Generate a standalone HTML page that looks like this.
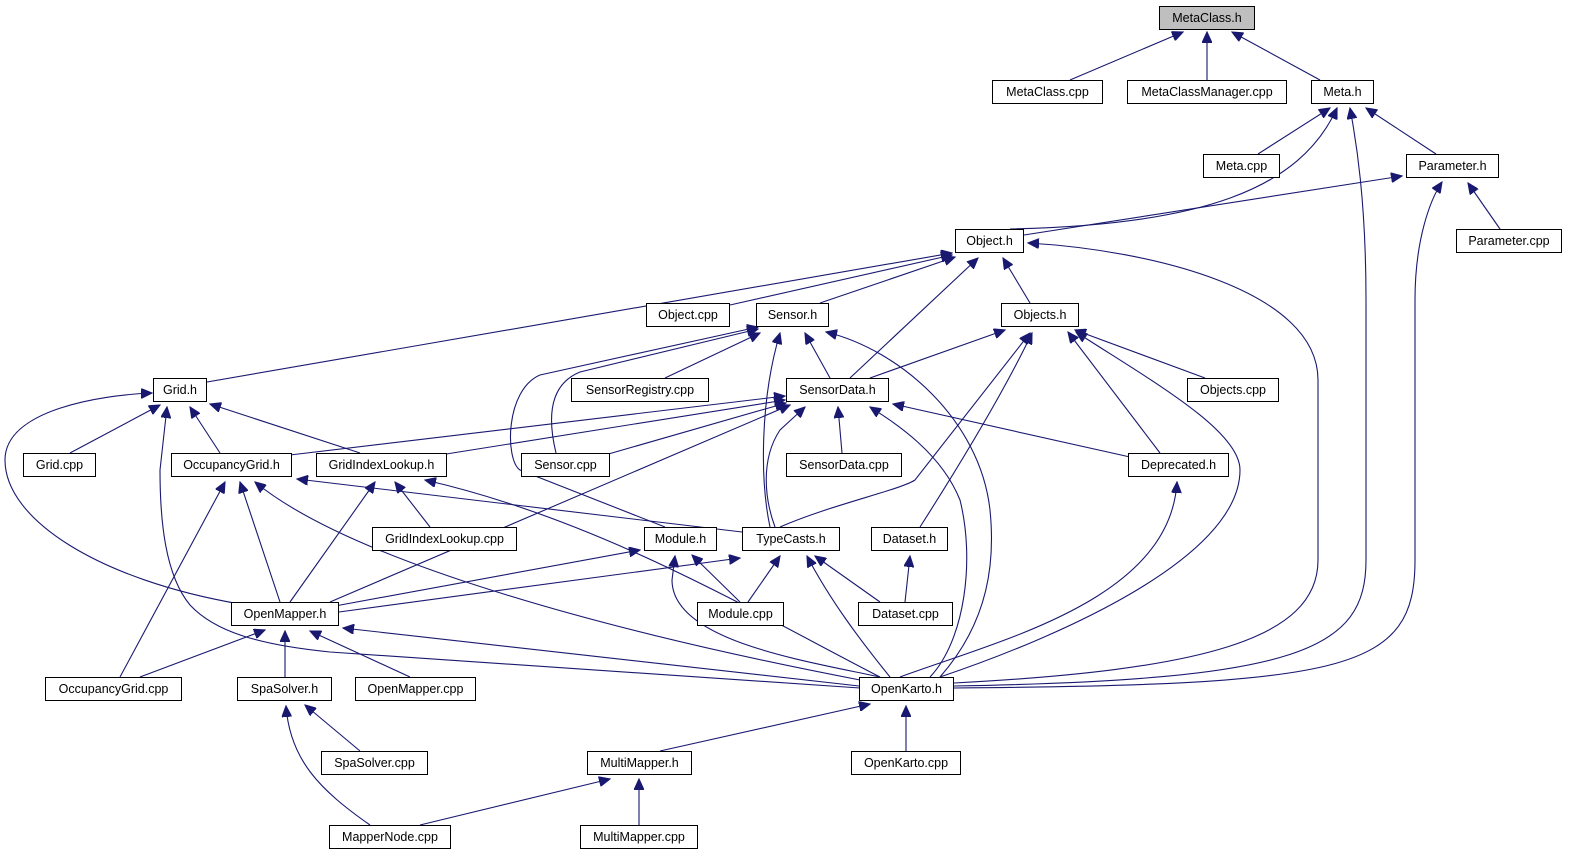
<!DOCTYPE html>
<html><head><meta charset="utf-8"><style>
body{margin:0;background:#fff;width:1570px;height:859px;position:relative;overflow:hidden;font-family:"Liberation Sans",sans-serif;}
.n{position:absolute;box-sizing:border-box;border:1px solid #000;background:#fff;height:24px;font-size:12.5px;line-height:22px;text-align:center;white-space:nowrap;}
svg{position:absolute;left:0;top:0;}
path{fill:none;stroke:#191970;stroke-width:1.1;}
</style></head><body>
<svg width="1570" height="859">
<defs><marker id="a" markerWidth="12" markerHeight="10" refX="11" refY="5" orient="auto" markerUnits="userSpaceOnUse"><path d="M0,0 L11,5 L0,10 Z" style="fill:#191970;stroke:#191970"/></marker></defs>
<g marker-end="url(#a)">
<path d="M1070,80 L1183,32"/>
<path d="M1207,80 L1207,32"/>
<path d="M1320,80 L1232,32"/>
<path d="M1258,154 L1330,108"/>
<path d="M1436,154 L1366,108"/>
<path d="M1010,229 C1200,225 1300,190 1337,108"/>
<path d="M954,686 C1300,680 1366,650 1366,560 L1366,300 C1366,200 1356,140 1350,108"/>
<path d="M1024,235 L1402,176"/>
<path d="M1500,229 L1468,183"/>
<path d="M954,688 C1350,685 1415,670 1415,560 L1415,300 C1415,240 1430,200 1442,182"/>
<path d="M730,305 L952,255"/>
<path d="M820,303 L955,257"/>
<path d="M1030,303 L1003,258"/>
<path d="M207,382 L952,253"/>
<path d="M850,378 L978,258"/>
<path d="M954,683 C1200,670 1318,640 1318,560 L1318,380 C1318,290 1150,250 1028,243"/>
<path d="M665,378 L760,333"/>
<path d="M830,378 L805,333"/>
<path d="M556,453 C548,420 548,385 580,372 L758,329"/>
<path d="M665,527 L520,470 C505,460 505,390 540,375 L758,327"/>
<path d="M770,527 C760,480 760,400 780,333"/>
<path d="M940,677 C990,620 995,560 990,510 C980,420 900,350 826,332"/>
<path d="M870,378 L1005,330"/>
<path d="M1205,378 L1075,330"/>
<path d="M1160,453 L1068,332"/>
<path d="M780,527 C830,505 900,490 915,480 L1030,333"/>
<path d="M920,527 C950,480 1000,400 1032,333"/>
<path d="M940,677 C1050,640 1240,560 1240,470 C1240,430 1150,380 1076,332"/>
<path d="M70,453 L160,405"/>
<path d="M220,453 L190,407"/>
<path d="M360,453 L210,404"/>
<path d="M240,604 C100,580 5,520 5,460 C5,410 100,395 152,393"/>
<path d="M860,688 L330,652 C260,645 215,632 190,605 C165,575 160,520 160,470 L167,407"/>
<path d="M290,455 L785,396"/>
<path d="M440,455 L785,400"/>
<path d="M605,455 L786,403"/>
<path d="M842,453 L838,407"/>
<path d="M1130,457 L893,404"/>
<path d="M775,527 C765,500 760,460 780,430 L805,407"/>
<path d="M330,602 L790,405"/>
<path d="M930,677 C965,640 975,560 960,500 C940,450 890,420 870,407"/>
<path d="M742,532 L297,479"/>
<path d="M120,677 L225,482"/>
<path d="M280,602 L240,482"/>
<path d="M860,680 C600,630 350,560 255,482"/>
<path d="M430,527 L395,482"/>
<path d="M290,602 L375,482"/>
<path d="M880,677 C750,610 600,520 425,480"/>
<path d="M900,677 C1000,640 1170,600 1177,482"/>
<path d="M335,606 L640,550"/>
<path d="M740,602 L692,555"/>
<path d="M880,677 C800,660 672,640 672,580 L675,556"/>
<path d="M339,612 L740,558"/>
<path d="M748,602 L780,556"/>
<path d="M880,602 L815,556"/>
<path d="M890,677 C860,640 830,600 807,556"/>
<path d="M905,602 L910,556"/>
<path d="M140,677 L265,630"/>
<path d="M285,677 L285,631"/>
<path d="M410,677 L310,631"/>
<path d="M859,686 L343,628"/>
<path d="M360,751 L305,705"/>
<path d="M370,825 C320,790 290,760 286,706"/>
<path d="M660,751 L870,704"/>
<path d="M906,751 L906,706"/>
<path d="M420,825 L610,779"/>
<path d="M639,825 L639,779"/>
</g></svg>
<div class="n" style="left:1159px;top:6px;width:96px;background:#bfbfbf">MetaClass.h</div>
<div class="n" style="left:992px;top:80px;width:111px">MetaClass.cpp</div>
<div class="n" style="left:1127px;top:80px;width:160px">MetaClassManager.cpp</div>
<div class="n" style="left:1311px;top:80px;width:63px">Meta.h</div>
<div class="n" style="left:1203px;top:154px;width:77px">Meta.cpp</div>
<div class="n" style="left:1406px;top:154px;width:93px">Parameter.h</div>
<div class="n" style="left:955px;top:229px;width:69px">Object.h</div>
<div class="n" style="left:1456px;top:229px;width:106px">Parameter.cpp</div>
<div class="n" style="left:646px;top:303px;width:84px">Object.cpp</div>
<div class="n" style="left:756px;top:303px;width:73px">Sensor.h</div>
<div class="n" style="left:1001px;top:303px;width:78px">Objects.h</div>
<div class="n" style="left:153px;top:378px;width:54px">Grid.h</div>
<div class="n" style="left:571px;top:378px;width:138px">SensorRegistry.cpp</div>
<div class="n" style="left:786px;top:378px;width:103px">SensorData.h</div>
<div class="n" style="left:1187px;top:378px;width:92px">Objects.cpp</div>
<div class="n" style="left:23px;top:453px;width:73px">Grid.cpp</div>
<div class="n" style="left:171px;top:453px;width:121px">OccupancyGrid.h</div>
<div class="n" style="left:316px;top:453px;width:131px">GridIndexLookup.h</div>
<div class="n" style="left:521px;top:453px;width:89px">Sensor.cpp</div>
<div class="n" style="left:786px;top:453px;width:116px">SensorData.cpp</div>
<div class="n" style="left:1128px;top:453px;width:101px">Deprecated.h</div>
<div class="n" style="left:372px;top:527px;width:145px">GridIndexLookup.cpp</div>
<div class="n" style="left:644px;top:527px;width:73px">Module.h</div>
<div class="n" style="left:742px;top:527px;width:98px">TypeCasts.h</div>
<div class="n" style="left:871px;top:527px;width:77px">Dataset.h</div>
<div class="n" style="left:231px;top:602px;width:108px">OpenMapper.h</div>
<div class="n" style="left:697px;top:602px;width:87px">Module.cpp</div>
<div class="n" style="left:858px;top:602px;width:95px">Dataset.cpp</div>
<div class="n" style="left:45px;top:677px;width:137px">OccupancyGrid.cpp</div>
<div class="n" style="left:237px;top:677px;width:95px">SpaSolver.h</div>
<div class="n" style="left:355px;top:677px;width:121px">OpenMapper.cpp</div>
<div class="n" style="left:859px;top:677px;width:95px">OpenKarto.h</div>
<div class="n" style="left:321px;top:751px;width:107px">SpaSolver.cpp</div>
<div class="n" style="left:587px;top:751px;width:105px">MultiMapper.h</div>
<div class="n" style="left:851px;top:751px;width:110px">OpenKarto.cpp</div>
<div class="n" style="left:329px;top:825px;width:122px">MapperNode.cpp</div>
<div class="n" style="left:580px;top:825px;width:118px">MultiMapper.cpp</div>
</body></html>
